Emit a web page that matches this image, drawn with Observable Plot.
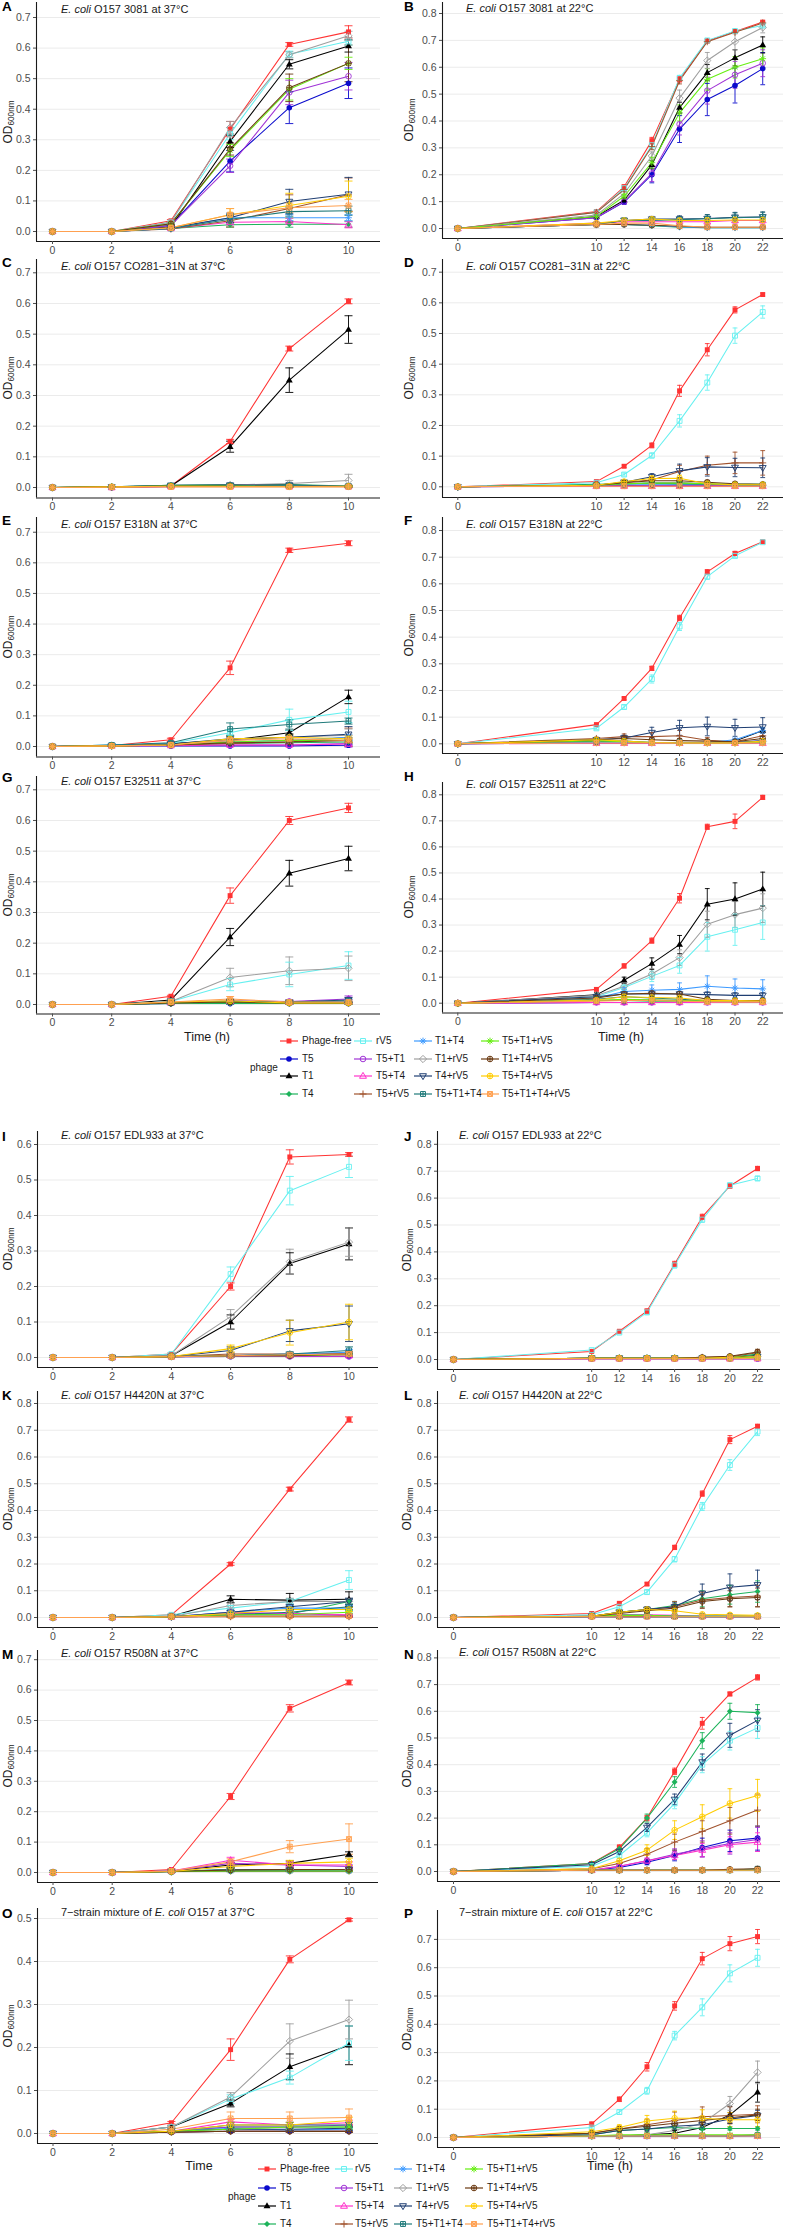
<!DOCTYPE html>
<html><head><meta charset="utf-8">
<script src="https://cdn.jsdelivr.net/npm/d3@7"></script>
<script src="https://cdn.jsdelivr.net/npm/@observablehq/plot@0.6"></script>
<style>
body{margin:0;background:#fff}
#root{position:relative;width:800px;height:2230px;overflow:hidden;font-family:"Liberation Sans",Arial,sans-serif;color:#1a1a1a}
sub{font-size:0.68em;vertical-align:-0.25em}
</style></head>
<body><div id="root"></div>
<script>
// ---------- categories ----------
const phages = ["Phage-free","T5","T1","T4","rV5","T5+T1","T5+T4","T5+rV5","T1+T4","T1+rV5","T4+rV5","T5+T1+T4","T5+T1+rV5","T1+T4+rV5","T5+T4+rV5","T5+T1+T4+rV5"];
const colors = ["#FF3333","#0A0ACC","#000000","#1DB35B","#66F0F0","#A033D6","#FF33CC","#A0522D","#3F9BFF","#9E9E9E","#1F3E72","#1F7A7A","#66EE11","#6B3A12","#FFCC00","#FFA050"];
const shapes = ["sqF","circF","triF","diamF","sq","circ","tri","plus","aster","diam","triDown","sqPlus","aster","circPlus","circPlus","sqStar"];
const hours37 = [0,2,4,6,8,10];
const hours22 = [0,10,12,14,16,18,20,22];
const titles = [
 "<i>E. coli</i> O157 3081 at 37°C","<i>E. coli</i> O157 3081 at 22°C",
 "<i>E. coli</i> O157 CO281−31N at 37°C","<i>E. coli</i> O157 CO281−31N at 22°C",
 "<i>E. coli</i> O157 E318N at 37°C","<i>E. coli</i> O157 E318N at 22°C",
 "<i>E. coli</i> O157 E32511 at 37°C","<i>E. coli</i> O157 E32511 at 22°C",
 "<i>E. coli</i> O157 EDL933 at 37°C","<i>E. coli</i> O157 EDL933 at 22°C",
 "<i>E. coli</i> O157 H4420N at 37°C","<i>E. coli</i> O157 H4420N at 22°C",
 "<i>E. coli</i> O157 R508N at 37°C","<i>E. coli</i> O157 R508N at 22°C",
 "7−strain mixture of <i>E. coli</i> O157 at 37°C","7−strain mixture of <i>E. coli</i> O157 at 22°C"];
const letters = ["A","B","C","D","E","F","G","H","I","J","K","L","M","N","O","P"];

// ---------- values (OD600 mean and SD per phage, rows in `phages` order) ----------
const A_od = [[0,0,0.035,0.335,0.612,0.653],[0,0,0.02,0.23,0.405,0.485],[0,0,0.015,0.295,0.547,0.607],[0,0,0.01,0.022,0.024,0.024],[0,0,0.03,0.32,0.58,0.622],[0,0,0.02,0.215,0.455,0.508],[0,0,0.01,0.03,0.033,0.022],[0,0,0.008,0.035,0.075,0.12],[0,0,0.01,0.045,0.045,0.045],[0,0,0.03,0.34,0.578,0.64],[0,0,0.012,0.045,0.098,0.122],[0,0,0.01,0.04,0.065,0.068],[0,0,0.025,0.265,0.465,0.55],[0,0,0.025,0.27,0.47,0.55],[0,0,0.012,0.055,0.085,0.115],[0,0,0.012,0.055,0.078,0.085]];
const A_sd = [[0,0,0.004,0.025,0.006,0.02],[0,0,0.003,0.035,0.052,0.05],[0,0,0.003,0.02,0.015,0.02],[0,0,0.002,0.008,0.01,0.01],[0,0,0.003,0.02,0.01,0.012],[0,0,0.003,0.022,0.04,0.045],[0,0,0.002,0.008,0.01,0.01],[0,0,0.002,0.02,0.045,0.055],[0,0,0.002,0.01,0.01,0.01],[0,0,0.003,0.02,0.01,0.015],[0,0,0.003,0.015,0.04,0.055],[0,0,0.002,0.015,0.015,0.015],[0,0,0.003,0.02,0.035,0.02],[0,0,0.003,0.02,0.045,0.06],[0,0,0.003,0.02,0.04,0.05],[0,0,0.003,0.02,0.015,0.02]];
const B_od = [[0,0.063,0.155,0.327,0.555,0.698,0.733,0.768],[0,0.04,0.098,0.2,0.37,0.48,0.532,0.595],[0,0.045,0.105,0.237,0.45,0.58,0.635,0.683],[0,0.015,0.015,0.01,0.005,0.003,0.003,0.003],[0,0.06,0.15,0.31,0.56,0.7,0.735,0.755],[0,0.04,0.1,0.205,0.388,0.513,0.572,0.615],[0,0.02,0.025,0.025,0.025,0.025,0.03,0.03],[0,0.06,0.145,0.305,0.55,0.695,0.73,0.765],[0,0.015,0.015,0.012,0.006,0.003,0.003,0.003],[0,0.05,0.13,0.27,0.485,0.625,0.695,0.748],[0,0.015,0.03,0.035,0.035,0.037,0.042,0.043],[0,0.015,0.03,0.03,0.033,0.036,0.04,0.043],[0,0.045,0.12,0.245,0.43,0.555,0.6,0.632],[0,0.015,0.015,0.012,0.008,0.005,0.005,0.005],[0,0.02,0.03,0.035,0.03,0.03,0.032,0.032],[0,0.015,0.02,0.02,0.01,0.005,0.005,0.005]];
const B_sd = [[0.005,0.004,0.008,0.012,0.01,0.005,0.005,0.005],[0.005,0.004,0.008,0.03,0.05,0.06,0.065,0.06],[0.005,0.004,0.008,0.015,0.02,0.03,0.03,0.03],[0.003,0.003,0.003,0.003,0.003,0.003,0.003,0.003],[0.005,0.004,0.008,0.015,0.01,0.005,0.005,0.005],[0.005,0.004,0.008,0.03,0.04,0.05,0.05,0.05],[0.003,0.004,0.005,0.006,0.008,0.01,0.01,0.01],[0.005,0.004,0.008,0.012,0.012,0.005,0.005,0.005],[0.003,0.003,0.003,0.003,0.003,0.003,0.003,0.003],[0.005,0.004,0.008,0.015,0.03,0.03,0.03,0.02],[0.003,0.004,0.008,0.01,0.012,0.015,0.018,0.018],[0.003,0.004,0.008,0.01,0.012,0.015,0.018,0.018],[0.005,0.004,0.008,0.02,0.03,0.04,0.04,0.04],[0.003,0.003,0.003,0.003,0.003,0.003,0.003,0.003],[0.003,0.004,0.005,0.006,0.008,0.01,0.01,0.01],[0.003,0.003,0.003,0.003,0.003,0.003,0.003,0.003]];
const C_od = [[0,0,0.005,0.15,0.453,0.607],[0,0,0.003,0.003,0.003,0.003],[0,0,0.005,0.133,0.35,0.515],[0,0.002,0.007,0.01,0.01,0.005],[0,0.002,0.005,0.005,0.005,0.003],[0,0,0.003,0.003,0.003,0.003],[0,0,0.003,0.003,0.003,0.003],[0,0.002,0.005,0.005,0.003,0.003],[0,0.002,0.005,0.005,0.003,0.003],[0,0.002,0.005,0.008,0.013,0.023],[0,0.002,0.007,0.008,0.008,0.004],[0,0.002,0.006,0.006,0.006,0.004],[0,0.002,0.005,0.005,0.003,0.003],[0,0.002,0.004,0.004,0.003,0.003],[0,0.002,0.004,0.003,0.003,0.004],[0,0.001,0.002,0.002,0.002,0.002]];
const C_sd = [[0,0,0.002,0.007,0.008,0.008],[0,0,0.001,0.001,0.001,0.001],[0,0,0.002,0.018,0.04,0.045],[0,0.001,0.002,0.003,0.003,0.002],[0,0.001,0.002,0.002,0.002,0.002],[0,0,0.001,0.001,0.001,0.001],[0,0,0.001,0.001,0.001,0.001],[0,0.001,0.002,0.002,0.002,0.002],[0,0.001,0.002,0.002,0.002,0.002],[0,0.001,0.002,0.005,0.01,0.02],[0,0.001,0.002,0.003,0.003,0.002],[0,0.001,0.002,0.003,0.003,0.002],[0,0.001,0.002,0.002,0.002,0.002],[0,0.001,0.002,0.002,0.002,0.002],[0,0.001,0.002,0.002,0.002,0.002],[0,0.001,0.001,0.001,0.001,0.001]];
const D_od = [[0,0.017,0.067,0.135,0.313,0.447,0.577,0.627],[0,0.003,0.003,0.003,0.003,0.003,0.003,0.003],[0,0.005,0.005,0.002,0.002,0.002,0.002,0.002],[0,0.008,0.01,0.01,0.008,0.008,0.005,0.005],[0,0.013,0.04,0.102,0.215,0.34,0.493,0.57],[0,0.003,0.003,0.003,0.003,0.003,0.003,0.003],[0,0.002,0.002,0.002,0.002,0.002,0.002,0.002],[0,0.005,0.015,0.022,0.05,0.07,0.078,0.078],[0,0.005,0.008,0.008,0.008,0.008,0.008,0.008],[0,0.005,0.01,0.012,0.015,0.01,0.005,0.005],[0,0.005,0.015,0.033,0.052,0.065,0.063,0.062],[0,0.005,0.01,0.012,0.01,0.008,0.006,0.006],[0,0.005,0.01,0.012,0.012,0.01,0.008,0.008],[0,0.005,0.013,0.02,0.02,0.015,0.01,0.008],[0,0.005,0.017,0.027,0.028,0.01,0.007,0.007],[0,0.002,0.002,0.002,0.002,0.002,0.002,0.002]];
const D_sd = [[0.003,0.003,0.004,0.008,0.018,0.02,0.01,0.005],[0.002,0.002,0.002,0.002,0.002,0.002,0.002,0.002],[0.002,0.002,0.002,0.002,0.002,0.002,0.002,0.002],[0.002,0.003,0.004,0.004,0.004,0.004,0.003,0.003],[0.003,0.003,0.005,0.008,0.02,0.025,0.025,0.02],[0.002,0.002,0.002,0.002,0.002,0.002,0.002,0.002],[0.002,0.002,0.002,0.002,0.002,0.002,0.002,0.002],[0.002,0.003,0.005,0.01,0.02,0.03,0.035,0.04],[0.002,0.003,0.003,0.003,0.003,0.003,0.003,0.003],[0.002,0.003,0.004,0.005,0.006,0.005,0.004,0.004],[0.002,0.003,0.005,0.01,0.022,0.03,0.03,0.032],[0.002,0.003,0.004,0.005,0.005,0.004,0.003,0.003],[0.002,0.003,0.004,0.005,0.005,0.004,0.003,0.003],[0.002,0.003,0.005,0.008,0.008,0.006,0.005,0.004],[0.002,0.003,0.005,0.008,0.01,0.005,0.004,0.004],[0.002,0.002,0.002,0.002,0.002,0.002,0.002,0.002]];
const E_od = [[0,0.003,0.022,0.257,0.641,0.664],[0,0.002,0.002,0.002,0.002,0.004],[0,0.003,0.01,0.02,0.045,0.162],[0,0.002,0.005,0.01,0.012,0.015],[0,0.005,0.01,0.045,0.087,0.113],[0,0.002,0.003,0.005,0.005,0.01],[0,0.002,0.003,0.005,0.005,0.008],[0,0.002,0.005,0.01,0.015,0.03],[0,0.005,0.008,0.015,0.02,0.03],[0,0.003,0.008,0.02,0.03,0.037],[0,0.003,0.008,0.025,0.03,0.04],[0,0.005,0.012,0.057,0.072,0.083],[0,0.002,0.005,0.015,0.02,0.02],[0,0.002,0.005,0.012,0.015,0.02],[0,0.002,0.005,0.025,0.03,0.025],[0,0.002,0.005,0.02,0.025,0.02]];
const E_sd = [[0,0.002,0.005,0.022,0.007,0.008],[0,0.001,0.001,0.001,0.001,0.002],[0,0.002,0.003,0.005,0.008,0.022],[0,0.001,0.002,0.004,0.005,0.006],[0,0.002,0.003,0.01,0.035,0.035],[0,0.001,0.002,0.003,0.003,0.012],[0,0.001,0.002,0.003,0.003,0.004],[0,0.001,0.002,0.005,0.008,0.03],[0,0.002,0.003,0.006,0.008,0.01],[0,0.001,0.003,0.008,0.01,0.02],[0,0.001,0.003,0.01,0.012,0.025],[0,0.002,0.003,0.02,0.015,0.01],[0,0.001,0.002,0.005,0.006,0.008],[0,0.001,0.002,0.005,0.006,0.008],[0,0.001,0.002,0.008,0.01,0.01],[0,0.001,0.002,0.006,0.008,0.008]];
const F_od = [[0,0.072,0.17,0.283,0.472,0.645,0.714,0.758],[0,0.003,0.003,0.003,0.003,0.003,0.005,0.012],[0,0.005,0.003,0.003,0.003,0.003,0.01,0.05],[0,0.01,0.005,0.003,0.003,0.003,0.003,0.005],[0,0.058,0.138,0.243,0.44,0.627,0.705,0.756],[0,0.003,0.003,0.003,0.003,0.003,0.003,0.003],[0,0.002,0.002,0.002,0.002,0.002,0.002,0.002],[0,0.02,0.027,0.027,0.03,0.013,0.008,0.03],[0,0.005,0.005,0.005,0.005,0.005,0.015,0.05],[0,0.01,0.01,0.005,0.005,0.005,0.005,0.01],[0,0.015,0.022,0.042,0.06,0.065,0.06,0.063],[0,0.01,0.01,0.005,0.005,0.005,0.005,0.01],[0,0.012,0.008,0.005,0.003,0.003,0.003,0.005],[0,0.015,0.02,0.015,0.012,0.01,0.008,0.02],[0,0.015,0.01,0.005,0.003,0.003,0.003,0.01],[0,0.003,0.003,0.003,0.003,0.003,0.003,0.003]];
const F_sd = [[0.003,0.005,0.005,0.008,0.01,0.008,0.008,0.005],[0.002,0.002,0.002,0.002,0.002,0.002,0.003,0.005],[0.002,0.002,0.002,0.002,0.002,0.002,0.005,0.01],[0.002,0.004,0.003,0.002,0.002,0.002,0.002,0.003],[0.003,0.005,0.008,0.015,0.015,0.01,0.008,0.005],[0.002,0.002,0.002,0.002,0.002,0.002,0.002,0.002],[0.002,0.002,0.002,0.002,0.002,0.002,0.002,0.002],[0.002,0.005,0.01,0.015,0.02,0.01,0.01,0.02],[0.002,0.002,0.002,0.002,0.002,0.002,0.005,0.01],[0.002,0.004,0.004,0.003,0.003,0.003,0.003,0.004],[0.002,0.005,0.01,0.02,0.028,0.035,0.032,0.035],[0.002,0.004,0.004,0.003,0.003,0.003,0.003,0.004],[0.002,0.004,0.004,0.003,0.003,0.003,0.003,0.003],[0.002,0.005,0.008,0.008,0.008,0.006,0.005,0.008],[0.002,0.005,0.004,0.003,0.003,0.003,0.003,0.004],[0.002,0.002,0.002,0.002,0.002,0.002,0.002,0.002]];
const G_od = [[0,0,0.027,0.355,0.6,0.641],[0,0,0.003,0.003,0.003,0.003],[0,0,0.015,0.22,0.428,0.476],[0,0,0.003,0.003,0.003,0.005],[0,0,0.01,0.065,0.098,0.127],[0,0,0.005,0.012,0.01,0.018],[0,0,0.005,0.01,0.008,0.01],[0,0,0.005,0.008,0.005,0.005],[0,0,0.005,0.008,0.008,0.01],[0,0,0.01,0.088,0.11,0.118],[0,0,0.005,0.01,0.008,0.015],[0,0,0.005,0.01,0.008,0.012],[0,0,0.005,0.008,0.005,0.005],[0,0,0.005,0.008,0.005,0.005],[0,0,0.008,0.012,0.005,0.005],[0,0,0.008,0.018,0.008,0.008]];
const G_sd = [[0,0,0.003,0.025,0.013,0.015],[0,0,0.002,0.002,0.002,0.002],[0,0,0.003,0.028,0.042,0.04],[0,0,0.002,0.002,0.002,0.003],[0,0,0.003,0.02,0.04,0.045],[0,0,0.002,0.005,0.005,0.01],[0,0,0.002,0.004,0.004,0.005],[0,0,0.002,0.003,0.003,0.003],[0,0,0.002,0.003,0.003,0.005],[0,0,0.003,0.03,0.045,0.04],[0,0,0.002,0.004,0.004,0.008],[0,0,0.002,0.005,0.005,0.006],[0,0,0.002,0.003,0.003,0.003],[0,0,0.002,0.003,0.003,0.003],[0,0,0.002,0.005,0.003,0.003],[0,0,0.003,0.008,0.004,0.004]];
const H_od = [[0,0.053,0.143,0.24,0.403,0.677,0.698,0.79],[0,0.003,0.003,0.003,0.003,0.003,0.003,0.003],[0,0.032,0.088,0.152,0.225,0.38,0.4,0.438],[0,0.01,0.01,0.008,0.008,0.005,0.005,0.005],[0,0.025,0.06,0.103,0.145,0.255,0.282,0.31],[0,0.003,0.003,0.003,0.003,0.003,0.003,0.003],[0,0.003,0.003,0.003,0.003,0.003,0.003,0.003],[0,0.01,0.012,0.012,0.01,0.008,0.008,0.008],[0,0.02,0.045,0.05,0.053,0.065,0.058,0.055],[0,0.03,0.065,0.112,0.175,0.303,0.34,0.365],[0,0.025,0.035,0.035,0.035,0.033,0.03,0.03],[0,0.015,0.025,0.02,0.015,0.01,0.008,0.008],[0,0.01,0.015,0.012,0.01,0.008,0.006,0.006],[0,0.02,0.035,0.038,0.035,0.015,0.01,0.01],[0,0.012,0.025,0.022,0.02,0.01,0.01,0.008],[0,0.008,0.01,0.01,0.008,0.005,0.005,0.005]];
const H_sd = [[0.003,0.005,0.008,0.01,0.018,0.01,0.028,0.008],[0.002,0.002,0.002,0.002,0.002,0.002,0.002,0.002],[0.003,0.008,0.012,0.022,0.035,0.06,0.062,0.065],[0.002,0.004,0.004,0.004,0.004,0.003,0.003,0.003],[0.003,0.005,0.01,0.02,0.03,0.055,0.06,0.065],[0.002,0.002,0.002,0.002,0.002,0.002,0.002,0.002],[0.002,0.002,0.002,0.002,0.002,0.002,0.002,0.002],[0.002,0.004,0.005,0.005,0.005,0.004,0.004,0.004],[0.002,0.005,0.015,0.02,0.025,0.04,0.035,0.035],[0.003,0.005,0.012,0.02,0.03,0.05,0.05,0.055],[0.002,0.005,0.008,0.01,0.01,0.01,0.01,0.01],[0.002,0.005,0.006,0.006,0.006,0.005,0.004,0.004],[0.002,0.004,0.005,0.005,0.005,0.004,0.003,0.003],[0.002,0.005,0.008,0.01,0.01,0.006,0.005,0.005],[0.002,0.004,0.006,0.006,0.006,0.005,0.005,0.004],[0.002,0.003,0.004,0.004,0.004,0.003,0.003,0.003]];
const I_od = [[0,0,0.01,0.2,0.565,0.572],[0,0,0.002,0.003,0.003,0.003],[0,0,0.005,0.1,0.265,0.32],[0,0,0.002,0.005,0.008,0.01],[0,0,0.01,0.235,0.47,0.537],[0,0,0.002,0.003,0.003,0.003],[0,0,0.002,0.005,0.005,0.005],[0,0,0.003,0.01,0.01,0.012],[0,0,0.003,0.005,0.01,0.015],[0,0,0.005,0.115,0.27,0.325],[0,0,0.003,0.02,0.075,0.095],[0,0,0.003,0.005,0.01,0.02],[0,0,0.002,0.005,0.005,0.008],[0,0,0.002,0.005,0.005,0.01],[0,0,0.003,0.025,0.07,0.1],[0,0,0.002,0.005,0.008,0.01]];
const I_sd = [[0,0,0.003,0.01,0.02,0.005],[0,0,0.001,0.002,0.002,0.002],[0,0,0.002,0.02,0.03,0.045],[0,0,0.001,0.003,0.004,0.005],[0,0,0.003,0.02,0.04,0.03],[0,0,0.001,0.002,0.002,0.002],[0,0,0.001,0.003,0.003,0.003],[0,0,0.002,0.005,0.005,0.006],[0,0,0.002,0.003,0.005,0.008],[0,0,0.002,0.02,0.035,0.04],[0,0,0.002,0.01,0.03,0.05],[0,0,0.002,0.003,0.005,0.01],[0,0,0.001,0.003,0.003,0.004],[0,0,0.001,0.003,0.003,0.005],[0,0,0.002,0.01,0.035,0.05],[0,0,0.001,0.003,0.004,0.005]];
const J_od = [[0,0.03,0.105,0.18,0.355,0.53,0.645,0.71],[0,0.003,0.003,0.003,0.003,0.003,0.003,0.003],[0,0.005,0.005,0.005,0.005,0.005,0.008,0.015],[0,0.005,0.005,0.005,0.005,0.005,0.008,0.02],[0,0.035,0.1,0.175,0.35,0.52,0.648,0.673],[0,0.003,0.003,0.003,0.003,0.003,0.003,0.003],[0,0.003,0.003,0.003,0.003,0.003,0.003,0.003],[0,0.005,0.005,0.005,0.005,0.008,0.01,0.025],[0,0.005,0.005,0.005,0.005,0.005,0.005,0.005],[0,0.005,0.005,0.005,0.005,0.005,0.005,0.01],[0,0.005,0.005,0.005,0.005,0.005,0.005,0.01],[0,0.005,0.005,0.005,0.005,0.005,0.005,0.008],[0,0.005,0.005,0.005,0.005,0.005,0.005,0.008],[0,0.005,0.005,0.005,0.005,0.008,0.012,0.028],[0,0.005,0.005,0.005,0.005,0.005,0.008,0.01],[0,0.003,0.003,0.003,0.003,0.003,0.003,0.005]];
const J_sd = [[0.003,0.003,0.005,0.008,0.01,0.01,0.008,0.008],[0.002,0.002,0.002,0.002,0.002,0.002,0.002,0.002],[0.002,0.002,0.002,0.002,0.002,0.002,0.004,0.006],[0.002,0.002,0.002,0.002,0.002,0.002,0.004,0.008],[0.003,0.003,0.005,0.008,0.01,0.01,0.008,0.008],[0.002,0.002,0.002,0.002,0.002,0.002,0.002,0.002],[0.002,0.002,0.002,0.002,0.002,0.002,0.002,0.002],[0.002,0.002,0.002,0.002,0.002,0.004,0.005,0.008],[0.002,0.002,0.002,0.002,0.002,0.002,0.002,0.004],[0.002,0.002,0.002,0.002,0.002,0.002,0.002,0.004],[0.002,0.002,0.002,0.002,0.002,0.002,0.002,0.004],[0.002,0.002,0.002,0.002,0.002,0.002,0.002,0.004],[0.002,0.002,0.002,0.002,0.002,0.002,0.002,0.004],[0.002,0.002,0.002,0.002,0.002,0.004,0.006,0.01],[0.002,0.002,0.002,0.002,0.002,0.002,0.002,0.004],[0.002,0.002,0.002,0.002,0.002,0.002,0.002,0.002]];
const K_od = [[0,0,0.01,0.2,0.48,0.74],[0,0,0.003,0.005,0.005,0.005],[0,0,0.005,0.068,0.065,0.068],[0,0,0.003,0.01,0.013,0.06],[0,0,0.01,0.035,0.06,0.14],[0,0,0.003,0.015,0.015,0.008],[0,0,0.002,0.02,0.015,0.01],[0,0,0.002,0.003,0.003,0.003],[0,0,0.003,0.02,0.035,0.035],[0,0,0.003,0.045,0.06,0.06],[0,0,0.003,0.02,0.04,0.06],[0,0,0.003,0.01,0.02,0.04],[0,0,0.003,0.01,0.01,0.02],[0,0,0.003,0.005,0.005,0.005],[0,0,0.003,0.015,0.03,0.03],[0,0,0.003,0.005,0.005,0.005]];
const K_sd = [[0,0,0.003,0.005,0.007,0.01],[0,0,0.002,0.002,0.002,0.002],[0,0,0.002,0.013,0.025,0.028],[0,0,0.002,0.004,0.005,0.01],[0,0,0.002,0.01,0.01,0.035],[0,0,0.002,0.005,0.005,0.004],[0,0,0.002,0.006,0.005,0.004],[0,0,0.001,0.002,0.002,0.002],[0,0,0.002,0.006,0.01,0.01],[0,0,0.002,0.01,0.012,0.012],[0,0,0.002,0.006,0.01,0.012],[0,0,0.002,0.004,0.006,0.01],[0,0,0.002,0.004,0.004,0.006],[0,0,0.001,0.002,0.002,0.002],[0,0,0.002,0.005,0.008,0.008],[0,0,0.001,0.002,0.002,0.002]];
const L_od = [[0,0.015,0.053,0.125,0.262,0.463,0.665,0.715],[0,0.003,0.003,0.003,0.003,0.003,0.003,0.003],[0,0.003,0.003,0.003,0.003,0.003,0.003,0.003],[0,0.005,0.02,0.03,0.045,0.07,0.085,0.097],[0,0.01,0.04,0.095,0.218,0.415,0.57,0.695],[0,0.005,0.008,0.008,0.005,0.005,0.005,0.005],[0,0.005,0.01,0.01,0.008,0.005,0.005,0.005],[0,0.005,0.02,0.03,0.04,0.065,0.075,0.08],[0,0.005,0.008,0.008,0.005,0.005,0.005,0.005],[0,0.005,0.008,0.008,0.005,0.005,0.005,0.005],[0,0.005,0.02,0.03,0.04,0.09,0.113,0.122],[0,0.005,0.008,0.008,0.005,0.005,0.005,0.005],[0,0.005,0.008,0.008,0.005,0.005,0.005,0.005],[0,0.005,0.015,0.025,0.035,0.06,0.07,0.075],[0,0.005,0.02,0.03,0.025,0.012,0.01,0.008],[0,0.003,0.003,0.003,0.003,0.003,0.003,0.003]];
const L_sd = [[0.003,0.005,0.005,0.005,0.008,0.01,0.015,0.007],[0.002,0.002,0.002,0.002,0.002,0.002,0.002,0.002],[0.002,0.002,0.002,0.002,0.002,0.002,0.002,0.002],[0.002,0.003,0.005,0.008,0.015,0.03,0.035,0.04],[0.003,0.003,0.005,0.008,0.01,0.015,0.02,0.015],[0.002,0.003,0.003,0.003,0.003,0.003,0.003,0.003],[0.002,0.003,0.004,0.004,0.003,0.003,0.003,0.003],[0.002,0.003,0.005,0.01,0.02,0.03,0.035,0.04],[0.002,0.003,0.003,0.003,0.003,0.003,0.003,0.003],[0.002,0.003,0.003,0.003,0.003,0.003,0.003,0.003],[0.002,0.003,0.005,0.01,0.015,0.035,0.05,0.055],[0.002,0.003,0.003,0.003,0.003,0.003,0.003,0.003],[0.002,0.003,0.003,0.003,0.003,0.003,0.003,0.003],[0.002,0.003,0.005,0.008,0.015,0.025,0.03,0.035],[0.002,0.003,0.005,0.006,0.006,0.004,0.004,0.004],[0.002,0.002,0.002,0.002,0.002,0.002,0.002,0.002]];
const M_od = [[0,0,0.01,0.25,0.54,0.625],[0,0,0.003,0.005,0.005,0.005],[0,0,0.005,0.025,0.03,0.06],[0,0,0.003,0.005,0.005,0.005],[0,0,0.005,0.01,0.01,0.01],[0,0,0.005,0.03,0.025,0.02],[0,0,0.005,0.04,0.025,0.025],[0,0,0.003,0.005,0.005,0.005],[0,0,0.003,0.008,0.008,0.008],[0,0,0.003,0.01,0.01,0.01],[0,0,0.003,0.008,0.008,0.01],[0,0,0.003,0.01,0.01,0.01],[0,0,0.003,0.005,0.005,0.005],[0,0,0.003,0.008,0.01,0.01],[0,0,0.003,0.02,0.03,0.035],[0,0,0.005,0.035,0.085,0.11]];
const M_sd = [[0,0,0.003,0.01,0.012,0.008],[0,0,0.001,0.002,0.002,0.002],[0,0,0.002,0.008,0.008,0.008],[0,0,0.001,0.002,0.002,0.002],[0,0,0.002,0.004,0.004,0.004],[0,0,0.002,0.008,0.006,0.005],[0,0,0.002,0.01,0.01,0.01],[0,0,0.001,0.002,0.002,0.002],[0,0,0.001,0.003,0.003,0.003],[0,0,0.001,0.004,0.004,0.004],[0,0,0.001,0.003,0.003,0.004],[0,0,0.001,0.004,0.004,0.004],[0,0,0.001,0.002,0.002,0.002],[0,0,0.001,0.003,0.004,0.004],[0,0,0.001,0.006,0.01,0.012],[0,0,0.002,0.01,0.02,0.05]];
const N_od = [[0,0.03,0.09,0.2,0.375,0.555,0.665,0.727],[0,0.005,0.015,0.035,0.06,0.09,0.115,0.125],[0,0.005,0.005,0.005,0.005,0.005,0.005,0.005],[0,0.03,0.085,0.2,0.335,0.49,0.6,0.595],[0,0.02,0.06,0.145,0.255,0.4,0.49,0.538],[0,0.005,0.02,0.04,0.065,0.085,0.105,0.12],[0,0.005,0.02,0.04,0.06,0.08,0.1,0.11],[0,0.01,0.03,0.065,0.11,0.15,0.19,0.23],[0,0.005,0.005,0.005,0.005,0.005,0.005,0.005],[0,0.005,0.005,0.005,0.005,0.005,0.005,0.005],[0,0.025,0.075,0.165,0.27,0.41,0.51,0.566],[0,0.005,0.005,0.005,0.005,0.005,0.005,0.01],[0,0.005,0.005,0.005,0.005,0.005,0.005,0.005],[0,0.005,0.005,0.005,0.005,0.005,0.008,0.01],[0,0.01,0.04,0.08,0.155,0.205,0.255,0.285],[0,0.005,0.005,0.005,0.005,0.005,0.005,0.005]];
const N_sd = [[0.003,0.005,0.01,0.01,0.012,0.022,0.007,0.01],[0.002,0.003,0.005,0.01,0.02,0.035,0.04,0.045],[0.002,0.002,0.002,0.002,0.002,0.002,0.002,0.002],[0.003,0.005,0.01,0.015,0.02,0.03,0.03,0.03],[0.003,0.005,0.01,0.015,0.02,0.03,0.035,0.04],[0.002,0.003,0.005,0.01,0.02,0.03,0.04,0.045],[0.002,0.003,0.005,0.01,0.015,0.025,0.03,0.035],[0.002,0.005,0.01,0.02,0.03,0.04,0.05,0.06],[0.002,0.002,0.002,0.002,0.002,0.002,0.002,0.002],[0.002,0.002,0.002,0.002,0.002,0.002,0.002,0.002],[0.003,0.005,0.01,0.015,0.02,0.03,0.045,0.04],[0.002,0.002,0.002,0.002,0.002,0.002,0.002,0.004],[0.002,0.002,0.002,0.002,0.002,0.002,0.002,0.002],[0.002,0.002,0.002,0.002,0.002,0.002,0.003,0.004],[0.002,0.005,0.01,0.02,0.035,0.045,0.055,0.06],[0.002,0.002,0.002,0.002,0.002,0.002,0.002,0.002]];
const O_od = [[0,0,0.025,0.195,0.405,0.497],[0,0,0.003,0.005,0.005,0.005],[0,0,0.015,0.07,0.155,0.205],[0,0,0.005,0.015,0.015,0.015],[0,0,0.015,0.08,0.13,0.21],[0,0,0.005,0.015,0.015,0.02],[0,0,0.005,0.027,0.02,0.025],[0,0,0.003,0.005,0.005,0.005],[0,0,0.005,0.012,0.008,0.01],[0,0,0.015,0.085,0.215,0.265],[0,0,0.005,0.01,0.01,0.012],[0,0,0.005,0.02,0.02,0.02],[0,0,0.005,0.01,0.015,0.015],[0,0,0.003,0.005,0.005,0.005],[0,0,0.005,0.02,0.02,0.03],[0,0,0.01,0.035,0.035,0.037]];
const O_sd = [[0,0,0.003,0.025,0.008,0.003],[0,0,0.001,0.002,0.002,0.002],[0,0,0.003,0.008,0.03,0.045],[0,0,0.002,0.005,0.005,0.005],[0,0,0.003,0.01,0.015,0.04],[0,0,0.002,0.005,0.005,0.006],[0,0,0.002,0.006,0.006,0.006],[0,0,0.001,0.002,0.002,0.002],[0,0,0.002,0.004,0.003,0.003],[0,0,0.003,0.01,0.04,0.045],[0,0,0.002,0.004,0.004,0.004],[0,0,0.002,0.006,0.006,0.006],[0,0,0.002,0.004,0.005,0.005],[0,0,0.001,0.002,0.002,0.002],[0,0,0.002,0.006,0.006,0.008],[0,0,0.003,0.015,0.015,0.02]];
const P_od = [[0,0.048,0.135,0.25,0.465,0.632,0.685,0.71],[0,0.005,0.005,0.005,0.005,0.005,0.005,0.005],[0,0.005,0.005,0.01,0.015,0.035,0.08,0.16],[0,0.01,0.025,0.03,0.035,0.032,0.032,0.032],[0,0.035,0.09,0.165,0.36,0.46,0.58,0.635],[0,0.005,0.005,0.005,0.005,0.005,0.005,0.01],[0,0.005,0.005,0.005,0.005,0.005,0.005,0.005],[0,0.015,0.03,0.045,0.06,0.073,0.078,0.082],[0,0.005,0.005,0.005,0.005,0.005,0.005,0.005],[0,0.005,0.005,0.01,0.025,0.05,0.12,0.23],[0,0.01,0.025,0.03,0.04,0.045,0.065,0.078],[0,0.005,0.005,0.005,0.005,0.005,0.005,0.008],[0,0.005,0.01,0.01,0.01,0.01,0.01,0.01],[0,0.015,0.03,0.04,0.05,0.06,0.07,0.08],[0,0.02,0.035,0.058,0.068,0.068,0.063,0.063],[0,0.005,0.005,0.005,0.005,0.005,0.005,0.005]];
const P_sd = [[0.003,0.006,0.008,0.015,0.015,0.022,0.025,0.025],[0.002,0.002,0.002,0.002,0.002,0.002,0.002,0.002],[0.002,0.003,0.003,0.005,0.01,0.02,0.03,0.035],[0.002,0.004,0.006,0.006,0.006,0.006,0.006,0.006],[0.003,0.005,0.008,0.012,0.015,0.03,0.03,0.03],[0.002,0.002,0.002,0.002,0.002,0.002,0.002,0.002],[0.002,0.002,0.002,0.002,0.002,0.002,0.002,0.002],[0.002,0.005,0.01,0.02,0.03,0.035,0.03,0.03],[0.002,0.002,0.002,0.002,0.002,0.002,0.002,0.002],[0.002,0.003,0.003,0.005,0.01,0.02,0.025,0.04],[0.002,0.004,0.006,0.008,0.01,0.012,0.015,0.018],[0.002,0.002,0.002,0.002,0.002,0.002,0.002,0.002],[0.002,0.003,0.004,0.004,0.004,0.004,0.004,0.004],[0.002,0.004,0.008,0.01,0.012,0.015,0.018,0.02],[0.002,0.005,0.01,0.02,0.025,0.03,0.025,0.025],[0.002,0.002,0.002,0.002,0.002,0.002,0.002,0.002]];
const yTickMax = [0.7,0.8,0.7,0.7,0.7,0.8,0.7,0.8,0.6,0.8,0.8,0.8,0.7,0.8,0.5,0.7];

// ---------- layout ----------
const GEO = {
  top:{L:{axisX:36,zeroX:52,unit:29.6,rightX:380}, R:{axisX:442,zeroX:457.3,unit:13.86,rightX:783}},
  bot:{L:{axisX:37,zeroX:52.5,unit:29.6,rightX:378}, R:{axisX:437,zeroX:453,unit:13.82,rightX:780}}
};
const BOX = [ // T, B, Z(0.0 line), U(px per OD unit), titleY, letterY
  [2,241,231,305.7,9,7],[2,238,228,268.75,8,7],
  [259,497.5,487,306.7,266,263],[259,497,486.3,306.6,266,263],
  [517,756.5,746,306.1,524,521],[517,753,743.3,266.6,524,521],
  [776,1013.5,1004,306.7,781,778],[782,1012.5,1002.7,260.5,784,777],
  [1131,1367,1357,355,1135,1137],[1131,1369,1359,269,1135,1137],
  [1391,1627,1617,267.5,1395,1396],[1391,1627,1617,267.5,1395,1396],
  [1650,1882,1872,304,1653,1655],[1650,1881,1871,267,1652,1655],
  [1908,2143,2133,430,1912,1914],[1910,2147,2137,283,1912,1914]
];
const ODS = [A_od,B_od,C_od,D_od,E_od,F_od,G_od,H_od,I_od,J_od,K_od,L_od,M_od,N_od,O_od,P_od];
const SDS = [A_sd,B_sd,C_sd,D_sd,E_sd,F_sd,G_sd,H_sd,I_sd,J_sd,K_sd,L_sd,M_sd,N_sd,O_sd,P_sd];

// ---------- symbols ----------
function drawKind(ctx, kind, r){
  const TAU = Math.PI*2;
  const sq = s => ctx.rect(-s,-s,2*s,2*s);
  const circ = c => {ctx.moveTo(c,0); ctx.arc(0,0,c,0,TAU);};
  const plus = a => {ctx.moveTo(-a,0);ctx.lineTo(a,0);ctx.moveTo(0,-a);ctx.lineTo(0,a);};
  const times = a => {ctx.moveTo(-a,-a);ctx.lineTo(a,a);ctx.moveTo(-a,a);ctx.lineTo(a,-a);};
  switch(kind){
    case "sqF": case "sq": sq(r*0.88); break;
    case "circF": case "circ": circ(r); break;
    case "triF": case "tri": {const h=r*1.3; ctx.moveTo(0,-h); ctx.lineTo(h*0.95,h*0.62); ctx.lineTo(-h*0.95,h*0.62); ctx.closePath(); break;}
    case "triDown": {const h=r*1.3; ctx.moveTo(0,h); ctx.lineTo(h*0.95,-h*0.62); ctx.lineTo(-h*0.95,-h*0.62); ctx.closePath(); break;}
    case "diamF": case "diam": {const d=r*1.3; ctx.moveTo(0,-d); ctx.lineTo(d,0); ctx.lineTo(0,d); ctx.lineTo(-d,0); ctx.closePath(); break;}
    case "plus": plus(r*1.25); break;
    case "aster": plus(r*1.2); times(r*0.85); break;
    case "circPlus": circ(r); plus(r); break;
    case "sqPlus": sq(r*0.88); plus(r*0.88); break;
    case "sqStar": sq(r*0.88); plus(r*0.88); times(r*0.88); break;
    case "cap": ctx.moveTo(-r,0); ctx.lineTo(r,0); break;
  }
}
function symbolOf(kind){ return {draw(ctx,size){ drawKind(ctx, kind, Math.sqrt(size/Math.PI)); }}; }
const SYMS = shapes.map(symbolOf);
const CAP = symbolOf("cap");
const isFilled = k => k.endsWith("F");

// ---------- drawing ----------
const root = document.getElementById("root");
function html(content, x, y, css, tx="0%"){
  const d = document.createElement("div");
  d.innerHTML = content;
  d.style.cssText = "position:absolute;white-space:nowrap;line-height:1;" + css;
  d.style.left = x + "px"; d.style.top = y + "px";
  d.style.transform = `translate(${tx},-50%)`;
  root.appendChild(d); return d;
}

function drawPanel(i){
  const col = i % 2 === 0 ? "L" : "R";
  const grp = i < 8 ? "top" : "bot";
  const g = GEO[grp][col];
  const [T,B,Z,U,titleY,letterY] = BOX[i];
  const hours = col === "L" ? hours37 : hours22;
  const svgLeft = col === "L" ? 0 : 400;
  const od = ODS[i], sd = SDS[i];
  const rows = [];
  od.forEach((vals,s) => vals.forEach((v,k) => rows.push({s, phage: phages[s], t: hours[k], y: v, e: sd[s][k]})));
  const xd = [(g.axisX-g.zeroX)/g.unit, (g.rightX-g.zeroX)/g.unit];
  const yd = [-(B-Z)/U, (Z-T)/U];
  const yt = d3.range(0, Math.round(yTickMax[i]*10)+1).map(k => k/10);
  const capR = col === "L" ? 4 : 2.4;
  const eb = rows.filter(d => d.e > 0);
  const marks = [
    Plot.gridY(yt, {stroke:"#ebebeb", strokeOpacity:1, strokeWidth:1}),
    Plot.line(rows, {x:"t", y:"y", z:"s", stroke: d => colors[d.s], strokeWidth:1.05}),
    Plot.ruleX(eb, {x:"t", y1: d => d.y - d.e, y2: d => d.y + d.e, stroke: d => colors[d.s], strokeWidth:0.9}),
    Plot.dot(eb, {x:"t", y: d => d.y + d.e, symbol: CAP, r: capR, stroke: d => colors[d.s], fill:"none", strokeWidth:0.9}),
    Plot.dot(eb, {x:"t", y: d => d.y - d.e, symbol: CAP, r: capR, stroke: d => colors[d.s], fill:"none", strokeWidth:0.9})
  ];
  phages.forEach((name,s) => {
    const f = isFilled(shapes[s]);
    marks.push(Plot.dot(rows.filter(d => d.s === s), {x:"t", y:"y", symbol: SYMS[s], r: shapes[s]==="diamF" ? 2.3 : 2.8,
      fill: f ? colors[s] : "none", stroke: f ? "none" : colors[s], strokeWidth: 0.9}));
  });
  marks.push(
    Plot.ruleY([yd[0]], {stroke:"#1a1a1a", strokeWidth:1.1}),
    Plot.ruleX([xd[0]], {stroke:"#1a1a1a", strokeWidth:1.1}),
    Plot.axisX(hours, {tickSize:3, tickPadding:2, label:null, fontSize:10.5}),
    Plot.axisY(yt, {tickSize:3, tickPadding:3, label:null, fontSize:10.5, tickFormat: d3.format(".1f")})
  );
  const svg = Plot.plot({
    width:400, height: B - T + 24,
    marginLeft: g.axisX - svgLeft, marginRight: svgLeft + 400 - g.rightX, marginTop:2, marginBottom:22,
    x:{domain: xd}, y:{domain: yd}, color:{type:"identity"},
    style:{fontFamily:'"Liberation Sans", Arial, sans-serif', fontSize:"10.5px", color:"#4d4d4d", background:"transparent", overflow:"visible"},
    marks
  });
  svg.style.position = "absolute"; svg.style.left = svgLeft + "px"; svg.style.top = (T - 2) + "px";
  root.appendChild(svg);
  // labels
  html(letters[i], col === "L" ? 2 : 404, letterY, "font-weight:bold;font-size:13.5px;color:#000");
  html(titles[i], col === "L" ? 61 : (grp === "top" ? 466 : 459), titleY, "font-size:11px;color:#1a1a1a");
  const yl = html("OD<sub>600nm</sub>", col === "L" ? 9 : (grp === "top" ? 410 : 408), (T + B) / 2, "font-size:12px;color:#1a1a1a");
  yl.style.transform = "translate(-50%,-50%) rotate(-90deg)";
}
for (let i = 0; i < 16; i++) drawPanel(i);

// x-axis titles
html("Time (h)", 207, 1037, "font-size:12.5px;color:#1a1a1a", "-50%");
html("Time (h)", 621, 1037, "font-size:12.5px;color:#1a1a1a", "-50%");
html("Time", 199, 2166, "font-size:12.5px;color:#1a1a1a", "-50%");
html("Time (h)", 610, 2166, "font-size:12.5px;color:#1a1a1a", "-50%");

// legends
function legend(symX, textX, rowY, phX, phY){
  html("phage", phX, phY, "font-size:10px;color:#1a1a1a");
  phages.forEach((name, s) => {
    const c = Math.floor(s/4), r = s % 4;
    const p = d3.path(); drawKind(p, shapes[s], shapes[s]==="diamF" ? 2.3 : 2.8);
    const f = isFilled(shapes[s]);
    const svg = `<svg width="20" height="12" viewBox="-10 -6 20 12" style="display:block"><line x1="-9" x2="9" y1="0" y2="0" stroke="${colors[s]}" stroke-width="1.2"/><path d="${p}" fill="${f?colors[s]:"none"}" stroke="${f?"none":colors[s]}" stroke-width="1"/></svg>`;
    html(svg, symX[c], rowY[r], "", "-50%");
    html(name, textX[c], rowY[r], "font-size:10px;color:#1a1a1a");
  });
}
legend([289,363,423,490],[302,376,435,502],[1041,1058.5,1076,1093.5],250,1068);
legend([267,344,403,474],[280,355,416,487],[2169,2187.5,2206,2224],228,2197);
</script>
</body></html>
